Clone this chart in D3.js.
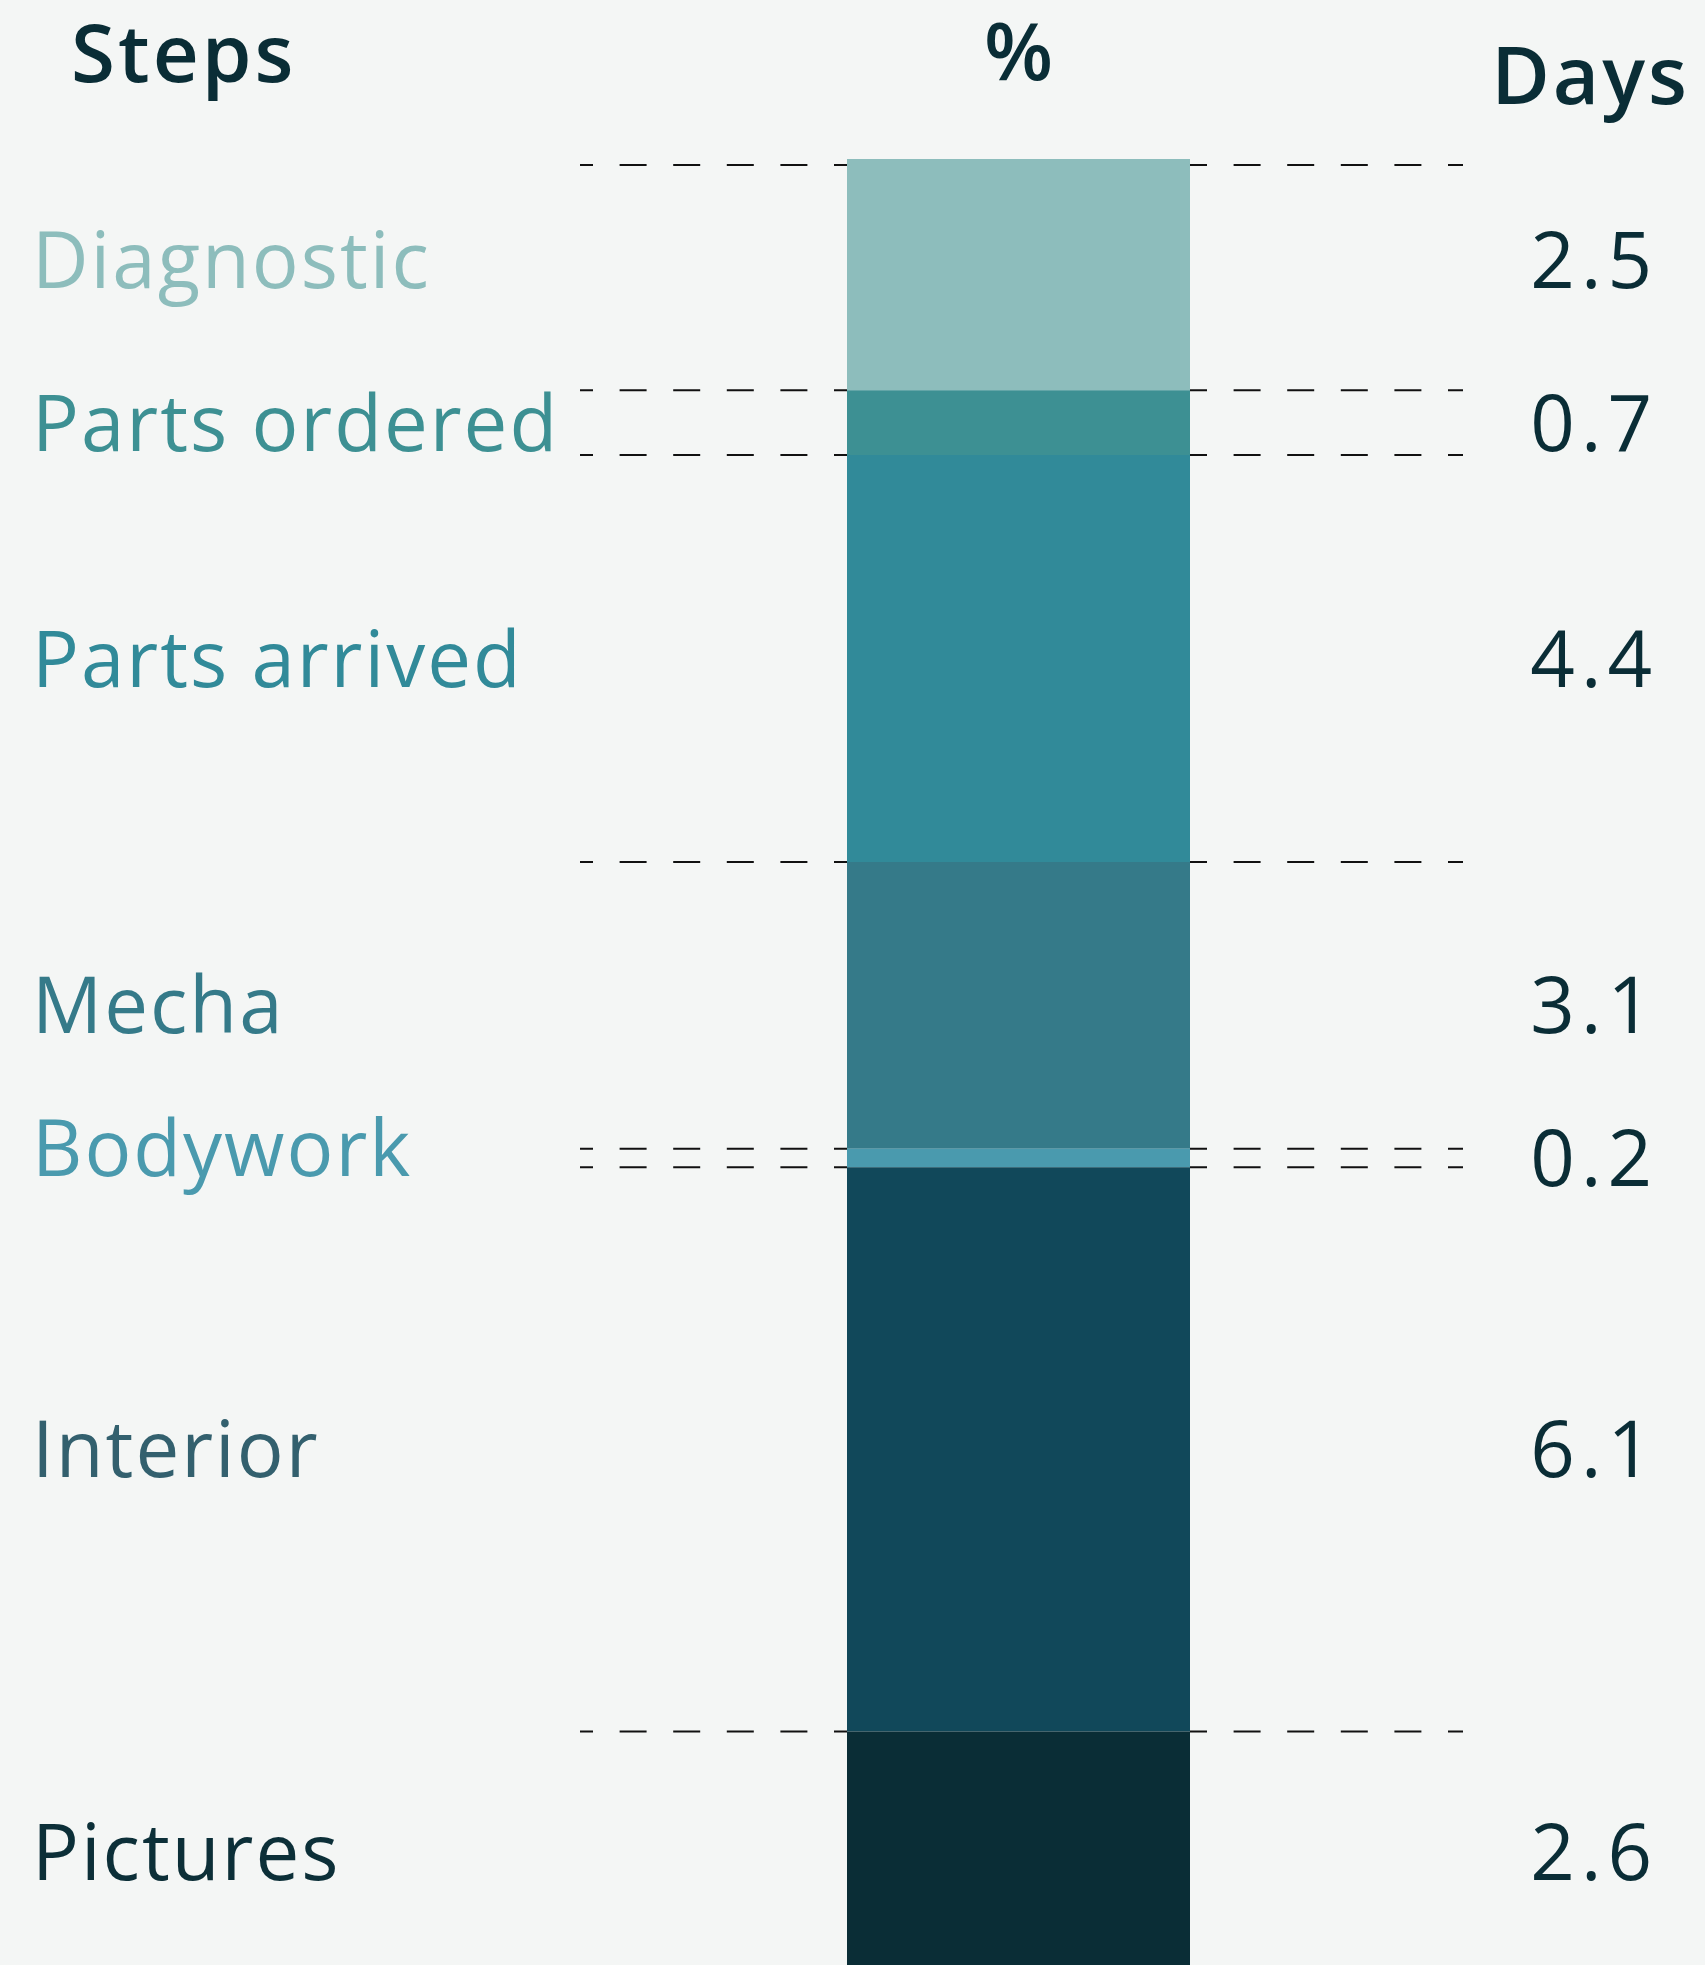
<!DOCTYPE html>
<html>
<head>
<meta charset="utf-8">
<script src="https://cdn.jsdelivr.net/npm/d3@7"></script>
<style>
  html, body { margin: 0; padding: 0; background: #F4F6F5; }
  svg { display: block; }
</style>
</head>
<body>
<svg id="chart" width="1705" height="1965"></svg>
<script>
// ---- data ----
const steps = ["Diagnostic", "Parts ordered", "Parts arrived", "Mecha", "Bodywork", "Interior", "Pictures"];
const days = [2.5, 0.7, 4.4, 3.1, 0.2, 6.1, 2.6];
const columnHeaders = ["Steps", "%", "Days"];
const barCategory = ["%"];

// ---- styles / layout ----
const segColors = ["#8DBDBC", "#3D9093", "#318A99", "#357A89", "#4A9AAE", "#11485A", "#0A2D36"];
const labelColors = ["#8DBDBC", "#3D9093", "#318A99", "#357A89", "#4A9AAE", "#33606E", "#0C2F38"];
const ink = "#0A2D36";
const font = "'Open Sans', 'Noto Sans', sans-serif";
const W = 1705, H = 1965;
const labelNudge = { "Diagnostic": -15, "Bodywork": -10 };
const valueNudge = { "Diagnostic": -15 };

const svg = d3.select("#chart");
svg.append("rect").attr("width", W).attr("height", H).attr("fill", "#F4F6F5");

const total = d3.sum(days);
const y = d3.scaleLinear().domain([0, total]).range([159, 1972]);
const x = d3.scaleBand().domain(barCategory).range([847, 1190]).padding(0);

const rows = steps.map((s, i) => ({
  step: s, days: days[i],
  y0: d3.sum(days.slice(0, i)),
  y1: d3.sum(days.slice(0, i + 1)),
  i
}));

// dashed guide lines at the start of each segment
const guides = svg.append("g");
rows.forEach(r => {
  const yy = r.i === 0 ? y(r.y0) + 6 : y(r.y0);
  guides.append("line")
    .attr("x1", 580).attr("x2", x("%"))
    .attr("y1", yy).attr("y2", yy)
    .attr("stroke", "#111").attr("stroke-width", 2)
    .attr("stroke-dasharray", "27,26.6").attr("stroke-dashoffset", 14);
  guides.append("line")
    .attr("x1", x("%") + x.bandwidth()).attr("x2", 1463)
    .attr("y1", yy).attr("y2", yy)
    .attr("stroke", "#111").attr("stroke-width", 2)
    .attr("stroke-dasharray", "27,26.6").attr("stroke-dashoffset", 10);
});

// stacked bar
svg.append("g").selectAll("rect").data(rows).join("rect")
  .attr("x", x("%"))
  .attr("width", x.bandwidth())
  .attr("y", d => y(d.y0))
  .attr("height", d => y(d.y1) - y(d.y0))
  .attr("fill", d => segColors[d.i]);

// headers
const hdr = svg.append("g").attr("font-family", font).attr("font-weight", 600)
  .attr("font-size", 80).attr("fill", ink);
hdr.append("text").attr("x", 71).attr("y", 82).attr("letter-spacing", 3).text(columnHeaders[0]);
hdr.append("text").attr("x", x("%") + x.bandwidth() / 2).attr("y", 80)
  .attr("text-anchor", "middle").text(columnHeaders[1]);
hdr.append("text").attr("x", 1690).attr("y", 104).attr("text-anchor", "end")
  .attr("letter-spacing", 3).text(columnHeaders[2]);

// labels
const lab = svg.append("g").attr("font-family", font).attr("font-size", 78);
lab.selectAll("text.step").data(rows).join("text")
  .attr("class", "step")
  .attr("x", 32)
  .attr("letter-spacing", 2)
  .attr("y", d => (y(d.y0) + y(d.y1)) / 2 + (labelNudge[d.step] || 0))
  .attr("dy", "0.36em")
  .attr("fill", d => labelColors[d.i])
  .text(d => d.step);

lab.selectAll("text.val").data(rows).join("text")
  .attr("class", "val")
  .attr("x", 1658)
  .attr("text-anchor", "end")
  .attr("letter-spacing", 6)
  .attr("y", d => (y(d.y0) + y(d.y1)) / 2 + (valueNudge[d.step] || 0))
  .attr("dy", "0.36em")
  .attr("fill", ink)
  .text(d => d3.format(".1f")(d.days));
</script>
</body>
</html>
